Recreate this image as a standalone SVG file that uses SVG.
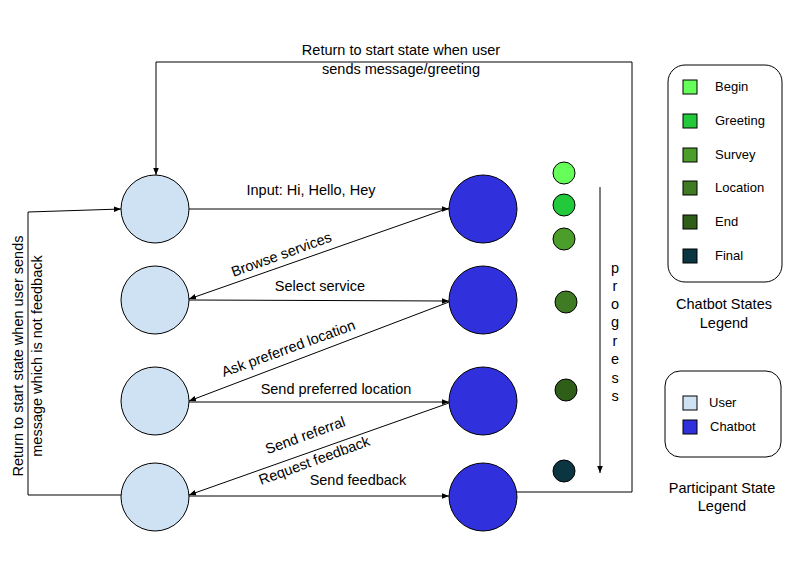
<svg xmlns="http://www.w3.org/2000/svg" width="812" height="574" viewBox="0 0 812 574">
<style>
text{font-family:"Liberation Sans",Arial,sans-serif;font-size:14.5px;fill:#000}
text.s{font-size:13px}
.c{text-anchor:middle}
.user{fill:#cfe2f3;stroke:#000;stroke-width:1}
.bot{fill:#3030dd;stroke:#000;stroke-width:1}
.ln{fill:none;stroke:#000;stroke-width:1}
.arr{fill:none;stroke:#000;stroke-width:1;marker-end:url(#ah)}
.dot{stroke:#000;stroke-width:1}
.box{fill:#fff;stroke:#000;stroke-width:1}
</style>
<defs>
<marker id="ah" viewBox="0 0 10 10" refX="10" refY="5" markerWidth="7" markerHeight="7" markerUnits="userSpaceOnUse" orient="auto">
<path d="M0,1 L10,5 L0,9 Z" fill="#000"/>
</marker>
</defs>
<rect width="812" height="574" fill="#fff"/>

<g id="connectors">
<polyline class="arr" points="517,492 632,492 632,62 156,62 156,175"/>
<polyline class="arr" points="121,495 28,495 28,212 121,209"/>
<line class="arr" x1="189" y1="209" x2="449" y2="209"/>
<line class="arr" x1="449" y1="208" x2="189" y2="299"/>
<line class="arr" x1="189" y1="300" x2="449" y2="301"/>
<line class="arr" x1="449" y1="302" x2="189" y2="401"/>
<line class="arr" x1="189" y1="402" x2="449" y2="402"/>
<line class="arr" x1="449" y1="403" x2="189" y2="495"/>
<line class="arr" x1="189" y1="496" x2="449" y2="496"/>
<line class="arr" x1="600" y1="187" x2="600" y2="473"/>
</g>

<g id="labels">
<text class="c" x="401" y="55">Return to start state when user</text>
<text class="c" x="401" y="74">sends message/greeting</text>
<text class="c" x="311" y="195">Input: Hi, Hello, Hey</text>
<text class="c" transform="translate(283,259) rotate(-20)">Browse services</text>
<text class="c" x="320" y="291">Select service</text>
<text class="c" transform="translate(290,353) rotate(-20)">Ask preferred location</text>
<text class="c" x="336" y="394">Send preferred location</text>
<text class="c" transform="translate(307,440) rotate(-20)">Send referral</text>
<text class="c" transform="translate(316,465) rotate(-20)">Request feedback</text>
<text class="c" x="358" y="485">Send feedback</text>
<text class="c" transform="translate(23,356) rotate(-90)">Return to start state when user sends</text>
<text class="c" transform="translate(42,356) rotate(-90)">message which is not feedback</text>
<g class="c">
<text x="615" y="273">p</text>
<text x="615" y="291">r</text>
<text x="615" y="309">o</text>
<text x="615" y="327">g</text>
<text x="615" y="346">r</text>
<text x="615" y="364">e</text>
<text x="615" y="383">s</text>
<text x="615" y="401">s</text>
</g>
</g>

<g id="user1"><circle class="user" cx="155" cy="209" r="34"/></g>
<g id="user2"><circle class="user" cx="155" cy="300" r="34"/></g>
<g id="user3"><circle class="user" cx="155" cy="401" r="34"/></g>
<g id="user4"><circle class="user" cx="155" cy="497" r="34"/></g>
<g id="bot1"><circle class="bot" cx="483" cy="209" r="34"/></g>
<g id="bot2"><circle class="bot" cx="483" cy="300" r="34"/></g>
<g id="bot3"><circle class="bot" cx="483" cy="401" r="34"/></g>
<g id="bot4"><circle class="bot" cx="483" cy="497" r="34"/></g>

<g id="state-dots">
<circle class="dot" cx="564" cy="173" r="11" fill="#66ff5a"/>
<circle class="dot" cx="564" cy="205" r="11" fill="#22c93a"/>
<circle class="dot" cx="564" cy="239" r="11" fill="#4c9e2b"/>
<circle class="dot" cx="566" cy="302" r="11" fill="#3e7b22"/>
<circle class="dot" cx="566" cy="390" r="11" fill="#2e5e18"/>
<circle class="dot" cx="564" cy="471" r="11" fill="#0b3540"/>
</g>

<g id="legend-states">
<rect class="box" x="668" y="65" width="114" height="217" rx="17"/>
<rect class="dot" x="683" y="80" width="14" height="14" fill="#66ff5a"/>
<rect class="dot" x="683" y="114" width="14" height="14" fill="#22c93a"/>
<rect class="dot" x="683" y="148" width="14" height="14" fill="#4c9e2b"/>
<rect class="dot" x="683" y="181" width="14" height="14" fill="#3e7b22"/>
<rect class="dot" x="683" y="215" width="14" height="14" fill="#2e5e18"/>
<rect class="dot" x="683" y="249" width="14" height="14" fill="#0b3540"/>
<text class="s" x="715" y="91">Begin</text>
<text class="s" x="715" y="125">Greeting</text>
<text class="s" x="715" y="159">Survey</text>
<text class="s" x="715" y="192">Location</text>
<text class="s" x="715" y="226">End</text>
<text class="s" x="715" y="260">Final</text>
<text class="c" x="724" y="309">Chatbot States</text>
<text class="c" x="724" y="328">Legend</text>
</g>

<g id="legend-participants">
<rect class="box" x="665" y="371" width="116" height="86" rx="15"/>
<rect class="dot" x="683" y="396" width="14" height="14" fill="#cfe2f3"/>
<rect class="dot" x="683" y="420" width="14" height="14" fill="#3030dd"/>
<text class="s" x="709" y="407">User</text>
<text class="s" x="710" y="431">Chatbot</text>
<text class="c" x="722" y="493">Participant State</text>
<text class="c" x="722" y="511">Legend</text>
</g>
</svg>
